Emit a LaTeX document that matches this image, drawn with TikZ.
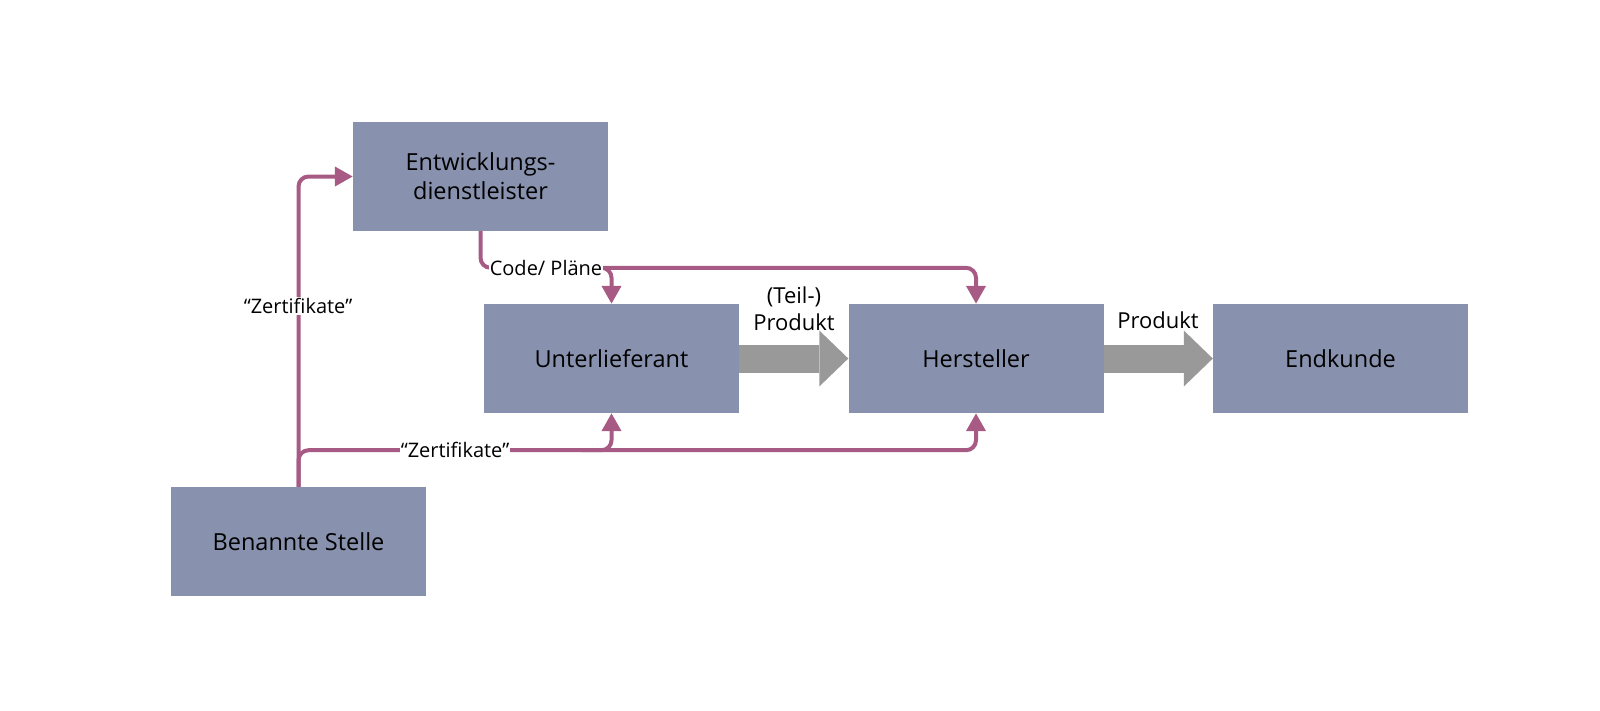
\documentclass[tikz,border=0pt]{standalone}
\usepackage{fontspec}
\setmainfont{Open Sans}
\usetikzlibrary{arrows.meta}

\definecolor{boxblue}{RGB}{136,145,173}
\definecolor{linkred}{RGB}{166,90,132}
\definecolor{flowgray}{RGB}{153,153,153}

\begin{document}
\begin{tikzpicture}[x=1pt, y=-1pt,
    box/.style={fill=boxblue, minimum width=255pt, minimum height=109pt,
        inner sep=0pt, align=center, font=\fontsize{23.5}{29}\selectfont},
    link/.style={draw=linkred, line width=4pt, rounded corners=10pt},
    tip/.style={-{Triangle[length=18pt,width=19pt]}},
    flow/.style={draw=flowgray, line width=28pt,
        -{Triangle[length=29pt,width=56pt,line width=0pt]}},
    lbl/.style={fill=white, inner sep=1pt, font=\fontsize{20}{24}\selectfont}]
    \useasboundingbox (0,0) rectangle (1600,710);

    % boxes
    \node[box] (entw)   at (480.5,176.5) {Entwicklungs-\\dienstleister};
    \node[box] (unter)  at (611.5,358.5) {Unterlieferant};
    \node[box] (herst)  at (976,358.5)   {Hersteller};
    \node[box] (kunde)  at (1340.5,358.5) {Endkunde};
    \node[box] (stelle) at (298.5,541.5) {Benannte Stelle};

    % product flow
    \draw[flow] (unter.east) -- (herst.west);
    \draw[flow] (herst.east) -- (kunde.west);
    \node[align=center, font=\fontsize{22}{27}\selectfont] (teil) at (794,309) {(Teil-)\\Produkt};
    \node[font=\fontsize{22}{27}\selectfont] (prod) at (1158,320) {Produkt};

    % certificates
    \draw[link, tip] (stelle.north) |- (entw.west);
    \draw[link, tip] (stelle.north) |- ([yshift=-37pt]herst.south) -- (herst.south);
    \draw[link, tip] ([xshift=-30pt,yshift=-37pt]unter.south) -| (unter.south);

    % code and plans
    \draw[link, tip] (entw.south) |- ([yshift=36pt]herst.north) -- (herst.north);
    \draw[link, tip] ([xshift=-30pt,yshift=36pt]unter.north) -| (unter.north);

    % labels
    \node[lbl] (zert1) at (298,306) {“Zertifikate”};
    \node[lbl] (zert2) at (455,450) {“Zertifikate”};
    \node[lbl] (code)  at (546,268) {Code/ Pläne};
\end{tikzpicture}
\end{document}
